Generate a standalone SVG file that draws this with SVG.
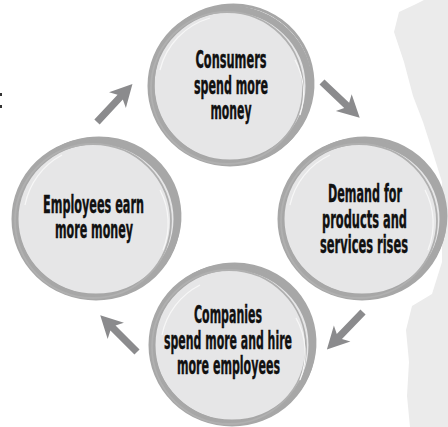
<svg xmlns="http://www.w3.org/2000/svg" width="448" height="427" viewBox="0 0 448 427">
  <style>
    .bg { fill: #ebebeb; }
    .disc { fill: #e6e6e7; stroke: #a7a7a7; stroke-width: 7; }
    .ring { fill: none; stroke: #a7a7a7; stroke-width: 3; }
    .ring2 { fill: none; stroke: #b0b0b0; stroke-width: 1.8; }
    .hl { fill: none; stroke: #f7f7f7; stroke-width: 1.2; }
    .lbl { font-family: "Liberation Sans Narrow", "DejaVu Sans Condensed", "Liberation Sans", sans-serif; font-weight: bold; font-size: 24px; fill: #111; stroke: #111; stroke-width: 0.4; text-anchor: middle; }
    .arrow { fill: #8b8b8d; }
  </style>
  <defs>
    <path id="arr" d="M0,-3.6 L34,-3.6 L30,-11.5 L52,0 L30,11.5 L34,3.6 L0,3.6 Z"/>
  </defs>
  <rect width="448" height="427" fill="#ffffff"/>
  <path class="bg" d="M424,0 L448,0 L448,427 L410,427 L407,396 L409,362 L406,330 L412,306 L432,294 L442,262 L442,182 L432,150 L423,122 L413,96 L404,62 L394,32 L399,12 L414,5 Z"/>
  <rect x="0" y="93" width="2" height="3" fill="#333"/>
  <rect x="0" y="105" width="2" height="3" fill="#333"/>

  <g id="consumers">
    <ellipse class="disc" cx="230" cy="86" rx="79" ry="77"/>
    <ellipse class="ring" cx="233" cy="84" rx="80" ry="79" transform="rotate(-8 233 84)"/>
    <ellipse class="ring2" cx="227" cy="88" rx="76" ry="76"/>
    <path class="hl" d="M160,70 A72,72 0 0 1 210,18"/>
    <path class="hl" d="M295,60 A70,70 0 0 1 300,115"/>
    <text class="lbl" x="231" y="68" textLength="71" lengthAdjust="spacingAndGlyphs">Consumers</text>
    <text class="lbl" x="231" y="93.5" textLength="74" lengthAdjust="spacingAndGlyphs">spend more</text>
    <text class="lbl" x="231" y="119" textLength="41" lengthAdjust="spacingAndGlyphs">money</text>
  </g>

  <g id="demand">
    <ellipse class="disc" cx="362" cy="219" rx="81" ry="78"/>
    <ellipse class="ring" cx="364" cy="217" rx="82" ry="79" transform="rotate(-10 364 217)"/>
    <ellipse class="ring2" cx="359" cy="221" rx="78" ry="77"/>
    <path class="hl" d="M290,205 A72,72 0 0 1 330,155"/>
    <path class="hl" d="M425,190 A72,72 0 0 1 428,250"/>
    <text class="lbl" x="365" y="201.7" textLength="74" lengthAdjust="spacingAndGlyphs">Demand for</text>
    <text class="lbl" x="364.5" y="227.7" textLength="85" lengthAdjust="spacingAndGlyphs">products and</text>
    <text class="lbl" x="364" y="253" textLength="88" lengthAdjust="spacingAndGlyphs">services rises</text>
  </g>

  <g id="companies">
    <ellipse class="disc" cx="232" cy="345" rx="80" ry="78"/>
    <ellipse class="ring" cx="234" cy="343" rx="81" ry="79" transform="rotate(-8 234 343)"/>
    <ellipse class="ring2" cx="229" cy="347" rx="77" ry="77"/>
    <path class="hl" d="M162,335 A72,72 0 0 1 200,285"/>
    <path class="hl" d="M296,318 A72,72 0 0 1 300,380"/>
    <text class="lbl" x="228" y="323" textLength="68" lengthAdjust="spacingAndGlyphs">Companies</text>
    <text class="lbl" x="228" y="349" textLength="128" lengthAdjust="spacingAndGlyphs">spend more and hire</text>
    <text class="lbl" x="228.5" y="374" textLength="103" lengthAdjust="spacingAndGlyphs">more employees</text>
  </g>

  <g id="employees">
    <ellipse class="disc" cx="96" cy="219" rx="81" ry="78"/>
    <ellipse class="ring" cx="98" cy="217" rx="82" ry="79" transform="rotate(-8 98 217)"/>
    <ellipse class="ring2" cx="93" cy="221" rx="78" ry="77"/>
    <path class="hl" d="M25,205 A72,72 0 0 1 62,155"/>
    <path class="hl" d="M160,190 A72,72 0 0 1 163,250"/>
    <text class="lbl" x="93.5" y="213" textLength="101" lengthAdjust="spacingAndGlyphs">Employees earn</text>
    <text class="lbl" x="94" y="237.5" textLength="78" lengthAdjust="spacingAndGlyphs">more money</text>
  </g>

  <g id="connectors">
    <use href="#arr" class="arrow" transform="translate(97,122) rotate(-47)"/>
    <use href="#arr" class="arrow" transform="translate(322,82) rotate(43.5)"/>
    <use href="#arr" class="arrow" transform="translate(363,312) rotate(134)"/>
    <use href="#arr" class="arrow" transform="translate(137,352) rotate(-135)"/>
  </g>
</svg>
